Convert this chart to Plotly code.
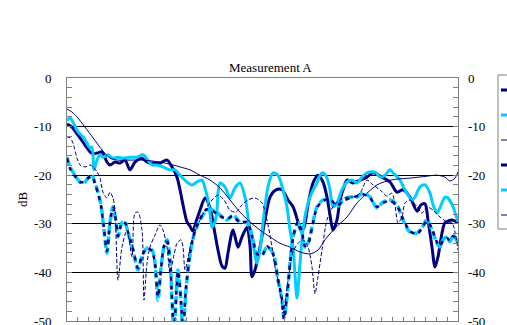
import plotly.graph_objects as go

# ---------------- data (x: arbitrary frequency units, y: dB) ----------------
s1_x = [0, 0.5, 1.0, 1.3, 1.8, 2.3, 2.6, 3.1, 3.5, 4.0, 4.3, 4.8, 5.3, 5.8, 6.3, 6.8, 7.5, 8.0, 8.6, 9.3,
        10.0, 10.5, 11.0, 11.3, 11.6, 12.0, 12.3, 12.6, 12.9, 13.3, 13.8, 14.3, 14.7, 15.1, 15.5, 15.8, 16.1,
        16.6, 17.1, 17.5, 18.0, 18.3, 18.5, 18.8, 19.3, 19.8, 20.3, 20.9, 21.5, 22.1, 22.6, 23.1, 23.4, 23.7,
        24.1, 24.6, 25.1, 25.6, 26.0, 26.3, 26.6, 27.0, 27.3, 27.7, 28.0, 28.6, 29.3, 30.0, 30.6, 31.3, 32.3,
        33.0, 33.6, 34.3, 35.0, 35.4, 35.8, 36.1, 36.5, 36.8, 37.1, 37.5, 37.8, 38.5, 39.1]
s1_y = [-9.5, -10.1, -11.5, -12.3, -13.8, -15.2, -15.6, -15.4, -15.2, -17.3, -17.9, -17.3, -17.5, -16.9,
        -18.9, -17.3, -16.5, -17.3, -17.5, -17.5, -16.9, -18.3, -20.4, -23.0, -26.1, -29.6, -30.5, -31.5,
        -29.6, -27.2, -24.7, -26.7, -30.9, -35.4, -38.7, -39.1, -36.0, -31.3, -34.8, -32.7, -30.7, -34.4,
        -40.9, -39.5, -34.8, -29.2, -24.5, -23.0, -23.0, -25.1, -26.5, -29.6, -31.3, -30.7, -26.1, -21.6,
        -20.0, -21.4, -24.5, -28.2, -31.3, -29.2, -25.1, -22.4, -21.0, -21.6, -21.0, -20.4, -19.5, -20.2,
        -21.4, -23.5, -23.0, -24.5, -27.4, -26.1, -25.9, -29.2, -34.8, -38.9, -36.8, -31.9, -29.8, -29.2,
        -29.8]

s2_x = [0, 0.3, 0.6, 1.1, 1.6, 2.0, 2.3, 2.5, 2.7, 3.0, 3.3, 3.6, 4.1, 4.6, 5.1, 5.6, 6.3, 7.0, 7.6, 8.1,
        8.5, 9.0, 9.6, 10.3, 10.8, 11.3, 12.0, 12.5, 13.0, 13.5, 13.8, 14.1, 14.3, 14.5, 14.8, 15.0, 15.1,
        15.3, 15.8, 16.3, 16.8, 17.3, 17.8, 18.1, 18.3, 18.6, 19.0, 19.3, 19.6, 20.1, 20.6, 21.1, 21.6, 22.0,
        22.3, 22.6, 22.8, 23.0, 23.3, 23.6, 24.0, 24.5, 25.0, 25.3, 25.6, 26.0, 26.3, 26.6, 27.0, 27.5, 28.0,
        28.5, 29.0, 29.5, 30.0, 30.5, 30.9, 31.3, 31.8, 32.3, 32.6, 33.3, 33.8, 34.5, 34.8, 35.3, 35.8, 36.3,
        36.6, 37.0, 37.5, 37.8, 38.1, 38.6, 39.1]
s2_y = [-8.8, -8.2, -9.1, -11.1, -12.1, -13.4, -14.4, -14.2, -18.9, -16.9, -15.8, -16.3, -15.8, -16.5,
        -16.3, -16.5, -16.3, -16.3, -15.8, -16.9, -17.9, -17.9, -18.3, -18.9, -18.9, -20.0, -21.4, -22.0,
        -21.4, -21.0, -22.6, -25.1, -27.8, -30.7, -29.6, -27.2, -23.7, -21.6, -22.4, -24.7, -22.6, -21.6,
        -24.5, -28.6, -31.3, -34.0, -38.1, -35.4, -29.8, -22.4, -19.5, -20.0, -23.0, -26.5, -31.3, -34.8,
        -40.5, -45.3, -38.1, -31.3, -26.5, -23.5, -21.6, -20.0, -19.5, -20.6, -23.0, -26.5, -25.7, -23.0,
        -21.4, -21.0, -21.6, -20.4, -19.5, -19.3, -19.5, -20.4, -20.0, -18.9, -19.5, -21.0, -23.0, -25.1,
        -24.5, -22.4, -22.0, -23.7, -26.1, -27.8, -25.7, -24.5, -24.7, -26.5, -29.6]

s3_x = [0, 0.5, 1.0, 1.8, 2.6, 3.5, 4.3, 5.1, 6.0, 7.6, 9.3, 10.6, 11.3, 12.3, 13.3, 14.3, 15.3, 16.3,
        17.3, 18.3, 19.3, 20.3, 21.3, 22.3, 23.3, 24.3, 25.1, 25.8, 26.8, 28.0, 29.0, 30.0, 31.0, 32.0,
        33.0, 34.3, 36.0, 37.0, 37.8, 38.3, 38.8, 39.1]
s3_y = [-6.4, -7.0, -8.0, -10.1, -12.3, -14.8, -16.5, -16.9, -16.9, -16.9, -17.3, -17.9, -18.3, -18.9,
        -20.0, -21.0, -22.6, -25.1, -27.6, -29.6, -31.3, -32.7, -34.0, -34.8, -35.8, -36.2, -35.4, -33.3,
        -30.9, -28.6, -25.7, -23.7, -22.0, -21.2, -20.8, -20.6, -20.2, -20.0, -20.4, -21.2, -20.6, -19.3]

s5_x = [0, 0.3, 0.8, 1.3, 1.7, 2.1, 2.5, 2.8, 3.1, 3.4, 3.7, 4.0, 4.3, 4.6, 4.9, 5.1, 5.5, 5.8, 6.1, 6.6,
        7.1, 7.5, 8.0, 8.5, 8.8, 9.1, 9.4, 9.7, 10.0, 10.3, 10.5, 10.7, 11.1, 11.4, 11.6, 11.9, 12.3, 12.7,
        13.3, 14.0, 14.6, 15.3, 16.0, 16.6, 17.3, 18.0, 18.5, 19.0, 19.5, 20.0, 20.6, 21.1, 21.5, 21.7, 22.0,
        22.3, 22.6, 23.1, 23.5, 23.8, 24.1, 24.5, 25.0, 25.6, 26.3, 27.0, 27.6, 28.3, 29.0, 29.6, 30.3, 31.0,
        31.6, 32.3, 33.0, 33.6, 34.3, 35.0, 35.5, 36.0, 36.5, 37.0, 37.3, 37.6, 38.0, 38.3, 38.6, 39.1]
s5_y = [-16.3, -18.3, -20.0, -21.4, -21.6, -20.6, -20.0, -21.6, -23.5, -26.1, -31.3, -36.0, -29.6, -26.5,
        -29.6, -32.7, -29.8, -29.6, -31.9, -35.4, -39.5, -36.8, -35.0, -35.4, -38.1, -45.7, -39.1, -34.8,
        -33.3, -37.4, -45.7, -52.0, -39.5, -46.0, -52.0, -43.6, -36.4, -32.3, -29.2, -27.2, -27.2, -28.2,
        -29.2, -28.2, -29.6, -29.8, -32.3, -36.4, -36.4, -34.8, -36.0, -41.6, -45.7, -49.4, -45.1, -38.1,
        -32.7, -29.8, -31.9, -34.8, -34.0, -30.7, -26.5, -25.1, -25.1, -26.5, -25.1, -24.5, -24.5, -23.7,
        -24.5, -26.7, -25.5, -25.1, -26.1, -29.2, -31.7, -31.9, -30.7, -29.2, -31.3, -34.0, -34.8, -33.3,
        -32.7, -33.7, -32.3, -34.0]

s4_x = [0, 0.3, 0.8, 1.3, 1.7, 2.1, 2.5, 2.8, 3.1, 3.4, 3.7, 4.0, 4.3, 4.6, 4.9, 5.1, 5.5, 5.8, 6.1, 6.6,
        7.1, 7.5, 8.0, 8.5, 8.8, 9.1, 9.4, 9.7, 10.0, 10.3, 10.5, 10.7, 11.1, 11.4, 11.6, 11.9, 12.3, 12.7,
        13.3, 14.0, 14.6, 15.3, 16.0, 16.6, 17.3, 18.0, 18.5, 19.0, 19.5, 20.0, 20.6, 21.1, 21.5, 21.7, 22.0,
        22.3, 22.6, 23.1, 23.5, 23.8, 24.1, 24.5, 25.0, 25.6, 26.3, 27.0, 27.6, 28.3, 29.0, 29.6, 30.3, 31.0,
        31.6, 32.3, 33.0, 33.6, 34.3, 35.0, 35.5, 36.0, 36.5, 37.0, 37.3, 37.6, 38.0, 38.3, 38.6, 39.1]
s4_y = [-16.5, -18.6, -20.2, -21.4, -21.4, -20.6, -20.2, -21.8, -23.7, -26.3, -31.0, -35.6, -29.8, -26.7,
        -29.4, -32.5, -29.8, -29.8, -31.7, -35.2, -39.1, -36.6, -35.0, -35.6, -38.3, -45.0, -39.3, -34.6,
        -33.5, -37.6, -45.5, -52.0, -39.7, -46.0, -52.0, -43.2, -36.2, -32.1, -29.0, -27.0, -27.4, -28.4,
        -29.0, -28.4, -29.8, -29.6, -32.5, -36.2, -36.6, -34.6, -36.2, -41.4, -45.5, -49.6, -44.9, -38.3,
        -32.9, -29.6, -31.7, -34.6, -34.2, -30.9, -26.7, -25.3, -24.9, -26.3, -25.3, -24.7, -24.3, -23.9,
        -24.7, -26.5, -25.7, -25.3, -26.3, -29.0, -31.5, -32.1, -30.9, -29.4, -31.1, -33.8, -34.6, -33.5,
        -32.9, -33.5, -32.5, -33.8]

s6_x = [0, 0.3, 0.6, 1.0, 1.3, 1.8, 2.3, 2.6, 3.0, 3.3, 3.6, 4.0, 4.3, 4.6, 4.8, 5.1, 5.5, 6.0, 6.5, 6.8,
        7.1, 7.5, 7.7, 8.0, 8.3, 8.8, 9.3, 9.6, 10.0, 10.3, 10.7, 11.0, 11.4, 11.6, 11.8, 12.1, 12.5, 13.0,
        13.3, 13.8, 14.5, 15.1, 15.7, 16.3, 16.9, 17.5, 18.1, 18.8, 19.5, 20.0, 20.5, 20.8, 21.1, 21.4, 21.6,
        21.9, 22.3, 22.6, 23.1, 23.6, 24.1, 24.5, 24.8, 25.1, 25.5, 26.0, 26.6, 27.3, 28.0, 28.6, 29.3, 30.0,
        30.6, 31.3, 32.0, 32.5, 32.8, 33.1, 33.5, 33.8, 34.3, 35.0, 35.5, 36.0, 36.6, 37.3, 38.0, 38.5, 38.8,
        39.1]
s6_y = [-12.1, -12.3, -13.4, -16.5, -17.9, -18.3, -17.9, -18.3, -19.3, -20.6, -23.5, -24.7, -23.5, -24.7,
        -27.2, -41.6, -34.8, -31.3, -36.8, -27.8, -27.6, -31.3, -45.7, -38.1, -34.8, -32.3, -30.2, -31.3,
        -34.8, -40.1, -36.4, -34.0, -33.3, -34.8, -39.5, -37.0, -33.3, -30.7, -29.2, -27.2, -25.1, -24.1,
        -25.1, -27.2, -27.6, -26.1, -25.1, -24.7, -25.7, -29.2, -34.8, -38.9, -41.6, -45.1, -48.4, -44.7,
        -38.9, -35.8, -34.0, -33.3, -34.8, -38.9, -44.4, -40.9, -35.4, -29.2, -26.5, -25.1, -24.5, -24.5,
        -23.7, -21.0, -22.0, -23.0, -24.3, -23.7, -26.1, -29.8, -28.6, -25.7, -25.1, -26.5, -27.8, -26.5,
        -27.2, -28.6, -29.6, -29.8, -31.7, -35.4]

y_ticks = [0, -10, -20, -30, -40, -50]

NAVY = "#000080"
CYAN = "#00CCFF"
GRAY = "#808080"
FONT = "Liberation Serif"

W, H = 507, 325
L, T = 67, 78          # plot area left / top
PW, PH = 391, 243      # plot area size

fig = go.Figure()

traces = [
    (s1_x, s1_y, NAVY, 3, "solid"),
    (s2_x, s2_y, CYAN, 3, "solid"),
    (s3_x, s3_y, NAVY, 1, "solid"),
    (s5_x, s5_y, CYAN, 3.5, "8px,3px"),
    (s4_x, s4_y, NAVY, 2.5, "4px,5px"),
    (s6_x, s6_y, NAVY, 1, "4px,2px"),
]
for x, y, color, width, dash in traces:
    fig.add_trace(go.Scatter(
        x=x, y=y, mode="lines", showlegend=False, hoverinfo="skip",
        line=dict(color=color, width=width, dash=dash, shape="spline", smoothing=0.8),
    ))

# invisible helper so the right-hand axis is drawn
fig.add_trace(go.Scatter(x=[None], y=[None], yaxis="y2", showlegend=False, hoverinfo="skip"))


def px_x(p):
    return (p - L) / PW


def px_y(p):
    return (T + PH - p) / PH


# legend box: only its left edge is inside the window in the reference (no text visible)
shapes = [dict(type="rect", xref="paper", yref="paper",
               x0=px_x(498), x1=px_x(540), y0=px_y(229), y1=px_y(75),
               line=dict(color=GRAY, width=1), fillcolor="rgba(0,0,0,0)", layer="above")]
legend_styles = [(NAVY, 3, "solid"), (CYAN, 3, "solid"), (NAVY, 1, "solid"),
                 (NAVY, 3, "dash"), (CYAN, 3, "dash"), (NAVY, 1, "dash")]
for i, (c, w, d) in enumerate(legend_styles):
    yy = px_y(90 + 25 * i)
    shapes.append(dict(type="line", xref="paper", yref="paper",
                       x0=px_x(501), x1=px_x(540), y0=yy, y1=yy,
                       line=dict(color=c, width=w, dash=d), layer="above"))

fig.update_layout(
    width=W, height=H,
    margin=dict(l=L, r=W - L - PW, t=T, b=H - T - PH, autoexpand=False),
    paper_bgcolor="white", plot_bgcolor="white",
    font=dict(family=FONT, size=13, color="black"),
    showlegend=False,
    shapes=shapes,
    annotations=[dict(
        text="Measurement A", xref="paper", yref="paper",
        x=px_x(270), y=px_y(67), xanchor="center", yanchor="middle",
        showarrow=False, font=dict(family=FONT, size=13),
    )],
    xaxis=dict(
        range=[0, 39.1], tick0=0, dtick=39.1 / 36,
        showgrid=False, zeroline=False, showticklabels=False,
        showline=True, linecolor=GRAY, linewidth=1, mirror=True,
        ticks="inside", ticklen=4, tickcolor=GRAY,
    ),
    yaxis=dict(
        range=[-50, 0], tickvals=y_ticks, ticktext=[str(v) for v in y_ticks],
        showgrid=True, gridcolor="black", gridwidth=1, zeroline=False,
        showline=True, linecolor=GRAY, linewidth=1, mirror=True,
        ticks="inside", ticklen=5, tickcolor=GRAY,
        minor=dict(dtick=2, ticks="inside", ticklen=5, tickcolor=GRAY, showgrid=False),
        ticklabelstandoff=12, ticklabeloverflow="allow",
        title=dict(text="dB", standoff=3, font=dict(family=FONT, size=13)),
    ),
    yaxis2=dict(
        overlaying="y", side="right", range=[-50, 0],
        tickvals=y_ticks, ticktext=[str(v) for v in y_ticks],
        showgrid=False, zeroline=False, showline=False,
        ticks="inside", ticklen=5, tickcolor=GRAY,
        minor=dict(dtick=2, ticks="inside", ticklen=5, tickcolor=GRAY, showgrid=False),
        ticklabelstandoff=9, ticklabeloverflow="allow",
    ),
)

# remove the default page margin so the 507x325 figure fills the window exactly
fig.write_html(
    "out.html",
    config={"displayModeBar": False},
    post_script="document.body.style.margin='0';document.body.style.overflow='hidden';",
)
